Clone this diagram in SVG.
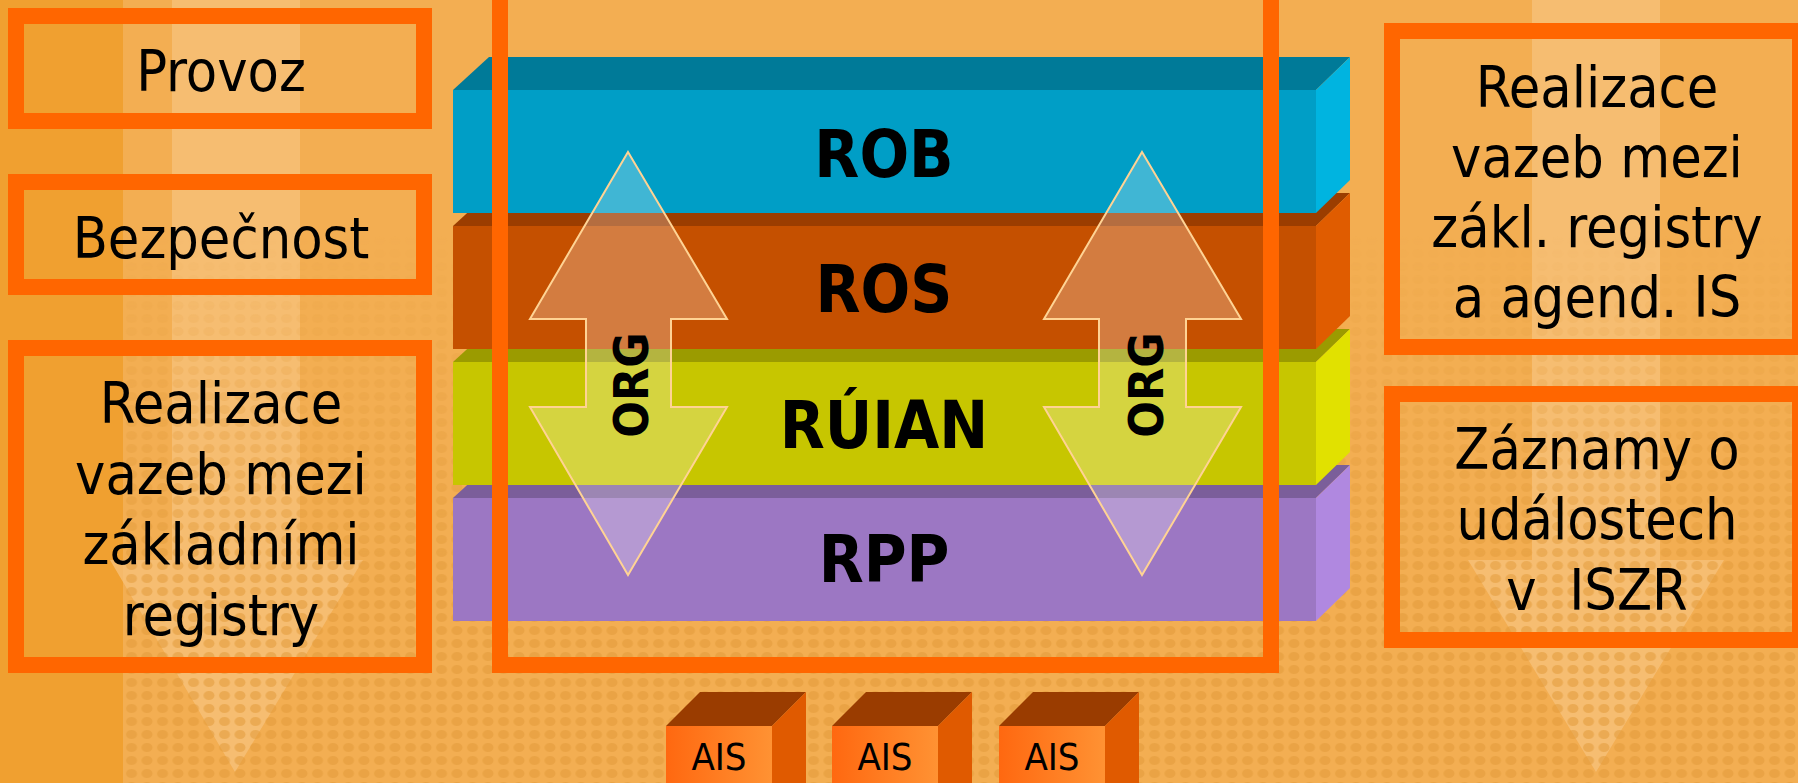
<svg xmlns="http://www.w3.org/2000/svg" width="1798" height="783" viewBox="0 0 1798 783">
<style>
.box{fill:none;stroke:#FF6600;stroke-width:16}
.t{font-family:"DejaVu Sans Condensed","DejaVu Sans",Tahoma,sans-serif;font-size:57px;fill:#000;text-anchor:middle}
.lbl{font-family:"DejaVu Sans Condensed","DejaVu Sans",sans-serif;font-weight:bold;font-size:65px;fill:#000;text-anchor:middle}
.org{font-family:"DejaVu Sans Condensed","DejaVu Sans",sans-serif;font-weight:bold;font-size:48px;fill:#000;text-anchor:middle}
.ais{font-family:"DejaVu Sans Condensed","DejaVu Sans",sans-serif;font-size:38px;fill:#000;text-anchor:middle}
.arr{fill:#FFFFFF;fill-opacity:0.25;stroke:#FFD394;stroke-width:2}
.bg{fill:#F7C27C;fill-opacity:0.75}
</style>
<defs>
<pattern id="dots" x="0" y="0" width="15.5" height="13" patternUnits="userSpaceOnUse">
<ellipse cx="7.5" cy="6.5" rx="5.5" ry="4.5" fill="#E29A3A" fill-opacity="0.55"/>
</pattern>
<linearGradient id="fade" x1="0" y1="0" x2="0" y2="1">
<stop offset="0.3" stop-color="#fff" stop-opacity="0"/>
<stop offset="0.75" stop-color="#fff" stop-opacity="1"/>
<stop offset="1" stop-color="#fff" stop-opacity="1"/>
</linearGradient>
<mask id="dm"><rect x="0" y="0" width="1798" height="783" fill="url(#fade)"/></mask>
<linearGradient id="aisg" x1="0" y1="0" x2="1" y2="0">
<stop offset="0" stop-color="#FF6810"/>
<stop offset="1" stop-color="#FF9233"/>
</linearGradient>
</defs>
<!-- background -->
<rect x="0" y="0" width="1798" height="783" fill="#F3AE52"/>
<rect x="0" y="0" width="123" height="783" fill="#F0A030"/>
<path class="bg" d="M172,0 H300 V560 H363 L235,772 L110,560 H172 Z"/>
<path class="bg" d="M1532,0 H1660 V560 H1724 L1596,772 L1468,560 H1532 Z"/>
<rect x="123" y="0" width="1675" height="783" fill="url(#dots)" mask="url(#dm)"/>

<g id="provoz">
<rect class="box" x="16" y="16" width="408" height="105"/>
<text class="t" x="221" y="91">Provoz</text>
</g>
<g id="bezpecnost">
<rect class="box" x="16" y="182" width="408" height="105"/>
<text class="t" x="221" y="258">Bezpečnost</text>
</g>
<g id="realizace-zr">
<rect class="box" x="16" y="348" width="408" height="317"/>
<text class="t" x="221" y="423">Realizace</text>
<text class="t" x="221" y="494">vazeb mezi</text>
<text class="t" x="221" y="564">základními</text>
<text class="t" x="221" y="635">registry</text>
</g>
<g id="realizace-ais">
<rect class="box" x="1392" y="31" width="408" height="316"/>
<text class="t" x="1597" y="107">Realizace</text>
<text class="t" x="1597" y="177">vazeb mezi</text>
<text class="t" x="1597" y="247">zákl. registry</text>
<text class="t" x="1597" y="317">a agend. IS</text>
</g>
<g id="zaznamy">
<rect class="box" x="1392" y="394" width="408" height="246"/>
<text class="t" x="1597" y="469">Záznamy o</text>
<text class="t" x="1597" y="539">událostech</text>
<text class="t" x="1597" y="610" xml:space="preserve">v  ISZR</text>
</g>

<!-- slabs, bottom first -->
<g id="rpp">
<polygon points="453,498 489,465 1350,465 1316,498" fill="#7B5E9A"/>
<polygon points="1316,498 1350,465 1350,588 1316,621" fill="#B088E0"/>
<rect x="453" y="498" width="863" height="123" fill="#9C77C3"/>
<text class="lbl" x="884" y="582">RPP</text>
</g>
<g id="ruian">
<polygon points="453,362 489,329 1350,329 1316,362" fill="#9B9B00"/>
<polygon points="1316,362 1350,329 1350,452 1316,485" fill="#E1E100"/>
<rect x="453" y="362" width="863" height="123" fill="#C7C600"/>
<text class="lbl" x="884" y="448">RÚIAN</text>
</g>
<g id="ros">
<polygon points="453,226 489,193 1350,193 1316,226" fill="#9B3D00"/>
<polygon points="1316,226 1350,193 1350,316 1316,349" fill="#E05C00"/>
<rect x="453" y="226" width="863" height="123" fill="#C55000"/>
<text class="lbl" x="884" y="312">ROS</text>
</g>
<g id="rob">
<polygon points="453,90 489,57 1350,57 1316,90" fill="#007A98"/>
<polygon points="1316,90 1350,57 1350,180 1316,213" fill="#00B4E0"/>
<rect x="453" y="90" width="863" height="123" fill="#009EC6"/>
<text class="lbl" x="884" y="177">ROB</text>
</g>

<g id="connectors">
<g id="org-left">
<path class="arr" d="M628,152 L727,319 L671,319 L671,407 L727,407 L628,575 L530,407 L586,407 L586,319 L530,319 Z"/>
<text class="org" transform="translate(648,385) rotate(-90)">ORG</text>
</g>
<g id="org-right">
<path class="arr" d="M1142,152 L1241,319 L1186,319 L1186,407 L1241,407 L1142,575 L1044,407 L1099,407 L1099,319 L1044,319 Z"/>
<text class="org" transform="translate(1163,385) rotate(-90)">ORG</text>
</g>
</g>

<g id="frame">
<rect class="box" x="500" y="-20" width="771" height="685"/>
</g>

<g id="ais1">
<polygon points="666,726 700,692 806,692 772,726" fill="#9A3C00"/>
<polygon points="772,726 806,692 806,800 772,834" fill="#E05A00"/>
<rect x="666" y="726" width="106" height="80" fill="url(#aisg)"/>
<text class="ais" x="719" y="770">AIS</text>
</g>
<g id="ais2">
<polygon points="832,726 866,692 972,692 938,726" fill="#9A3C00"/>
<polygon points="938,726 972,692 972,800 938,834" fill="#E05A00"/>
<rect x="832" y="726" width="106" height="80" fill="url(#aisg)"/>
<text class="ais" x="885" y="770">AIS</text>
</g>
<g id="ais3">
<polygon points="999,726 1033,692 1139,692 1105,726" fill="#9A3C00"/>
<polygon points="1105,726 1139,692 1139,800 1105,834" fill="#E05A00"/>
<rect x="999" y="726" width="106" height="80" fill="url(#aisg)"/>
<text class="ais" x="1052" y="770">AIS</text>
</g>
</svg>
